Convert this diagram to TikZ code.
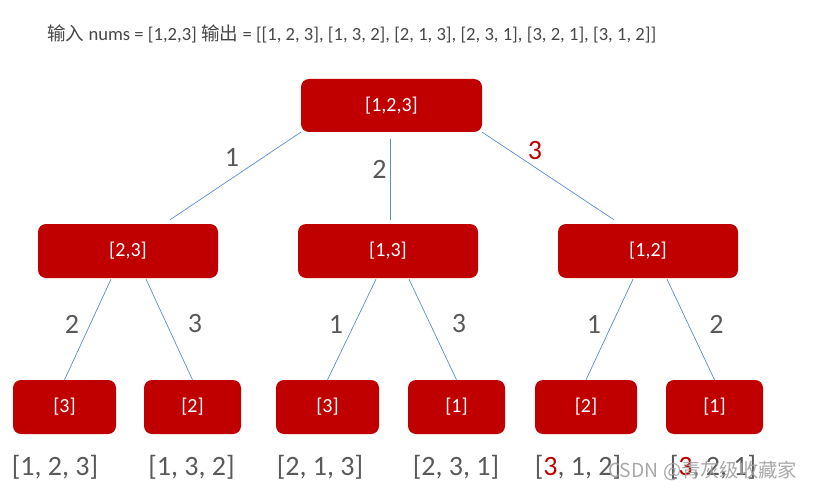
\documentclass[tikz,border=0pt]{standalone}
\usepackage{fontspec}
\setmainfont{Carlito}
\newfontfamily\cjk{Noto Sans CJK SC}
\usepackage{xcolor}
\usepackage{tikz}
\definecolor{boxred}{HTML}{C00000}
\definecolor{labelgray}{HTML}{595959}
\definecolor{lineblue}{HTML}{5B8CCB}
\usetikzlibrary{positioning}
\usetikzlibrary{calc}

\tikzset{
	knoten/.style={rectangle, rounded corners=8pt, fill=boxred, text=white, inner sep=0pt, minimum height=54pt, font=\fontsize{20}{24}\selectfont},
	zweig/.style={lineblue, line width=0.7pt},
	zahl/.style={text=labelgray, inner sep=0pt, font=\fontsize{28}{32}\selectfont},
}

\begin{document}
\begin{tikzpicture}[x=1pt, y=-1pt]
		%Rahmen
		\useasboundingbox (0,0) rectangle (814,492);

		%Ueberschrift
		\node [anchor=west, inner sep=0pt, text=labelgray!80!black, font=\fontsize{18.6}{22}\selectfont] (titel) at (47,34) {{\cjk 输入} nums = [1,2,3] {\cjk 输出} = [[1, 2, 3], [1, 3, 2], [2, 1, 3], [2, 3, 1], [3, 2, 1], [3, 1, 2]]};

		%Knoten
		\node [knoten, minimum width=181pt, minimum height=53pt] (wurzel) at (391.5,105.5) {[1,2,3]};

		\node [knoten, minimum width=180pt] (l) at (128,251) {[2,3]};
		\node [knoten, minimum width=180pt] (m) at (388,251) {[1,3]};
		\node [knoten, minimum width=180pt] (r) at (648,251) {[1,2]};

		\node [knoten, minimum width=103pt] (a) at (64.5,407) {[3]};
		\node [knoten, minimum width=97pt] (b) at (192.5,407) {[2]};
		\node [knoten, minimum width=103pt] (c) at (327.5,407) {[3]};
		\node [knoten, minimum width=97pt] (d) at (456.5,407) {[1]};
		\node [knoten, minimum width=102pt] (e) at (586,407) {[2]};
		\node [knoten, minimum width=97pt] (f) at (714.5,407) {[1]};

		%Zweige erste Ebene
		\draw [zweig] (wurzel.south west) -- ([xshift=42pt, yshift=4pt]l.north);
		\draw [zweig] ([xshift=-1.5pt, yshift=-7pt]wurzel.south) -- ([xshift=2pt, yshift=4pt]m.north);
		\draw [zweig] (wurzel.south east) -- ([xshift=-34pt, yshift=4pt]r.north);

		%Zweige zweite Ebene
		\foreach \von/\nach/\dx in {l/a/-17, l/b/18, m/c/-12, m/d/21, r/e/-15, r/f/19}
			\draw [zweig] ([xshift=\dx pt, yshift=-1pt]\von.south) -- (\nach.north);

		%Beschriftung der Zweige
		\node [zahl] (z1) at (232,157.5) {1};
		\node [zahl] (z2) at (379.5,169) {2};
		\node [zahl, text=boxred] (z3) at (535,150.5) {3};

		\node [zahl] (za) at (72,324) {2};
		\node [zahl] (zb) at (195,324) {3};
		\node [zahl] (zc) at (336,324) {1};
		\node [zahl] (zd) at (459,324) {3};
		\node [zahl] (ze) at (594,324) {1};
		\node [zahl] (zf) at (716.5,324) {2};

		%Ergebnisse
		\node [zahl] (ea) at (55,467) {[1, 2, 3]};
		\node [zahl] (eb) at (191.5,467) {[1, 3, 2]};
		\node [zahl] (ec) at (320,467) {[2, 1, 3]};
		\node [zahl] (ed) at (456,467) {[2, 3, 1]};
		\node [zahl] (ee) at (578,467) {[\textcolor{boxred}{3}, 1, 2]};
		\node [zahl] (ef) at (713,467) {[\textcolor{boxred}{3}, 2, 1]};

		%Wasserzeichen
		\node [anchor=west, inner sep=0pt, text=gray!75, opacity=0.9, font=\cjk\fontsize{19.3}{22}\selectfont] (marke) at (608,471) {CSDN @青灰级收藏家};
\end{tikzpicture}
\end{document}
